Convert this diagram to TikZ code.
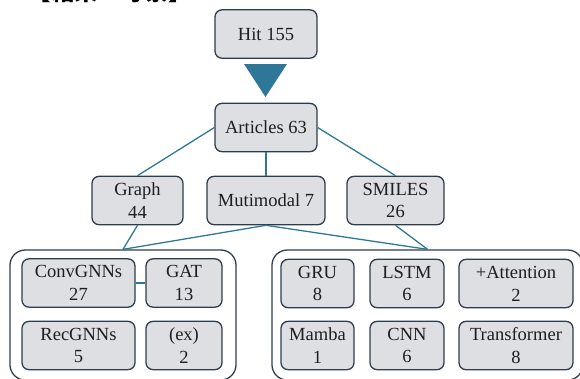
\documentclass[tikz,border=0pt]{standalone}
\usepackage{fontspec}
\setmainfont{Liberation Serif}
\newfontfamily\jpfont{Noto Sans CJK JP}
\usetikzlibrary{shapes,arrows,positioning,calc}
\definecolor{boxfill}{HTML}{DEDFE3}
\definecolor{boxline}{HTML}{2E3D4C}
\definecolor{linkcol}{HTML}{2E7799}
\definecolor{txtcol}{HTML}{1E1E1E}

\begin{document}
\begin{tikzpicture}[x=0.03cm,y=-0.03cm,
  box/.style={rectangle, rounded corners=6pt, draw=boxline, fill=boxfill, line width=1.1pt,
    align=center, text=txtcol, font=\fontsize{15.8}{19.5}\selectfont, inner sep=0pt,
    minimum height=1.45cm},
  group/.style={rectangle, rounded corners=13pt, draw=boxline, line width=1.1pt, inner sep=0pt},
  link/.style={draw=linkcol, line width=1.1pt}]
\useasboundingbox (0,0) rectangle (580,378);

% cut-off title above the picture
\node[anchor=base, font=\jpfont\bfseries\fontsize{20}{20}\selectfont] (title) at (110,0.5) {【結果・考察】};

\node[box, minimum width=3.06cm] (hit) at (266,34) {Hit 155};
\fill[linkcol] (244,64) -- (287,64) -- (265.5,97) -- cycle;
\node[box, minimum width=3.06cm] (art) at (266,127.5) {Articles 63};

\node[box, minimum width=2.73cm] (graph) at (137.5,200.5) {Graph\\44};
\node[box, minimum width=3.54cm] (multi) at (266,200.5) {Mutimodal 7};
\node[box, minimum width=2.91cm] (smiles) at (395.5,200.5) {SMILES\\26};

\node[group, minimum width=6.78cm, minimum height=3.9cm] (gleft) at (123,315) {};
\node[group, minimum width=9.33cm, minimum height=3.9cm] (gright) at (427.5,315) {};

% graph models
\node[box, minimum width=3.39cm] (conv) at (78.5,283) {ConvGNNs\\27};
\node[box, minimum width=2.28cm] (gat) at (184,283) {GAT\\13};
\node[box, minimum width=3.39cm] (rec) at (78.5,345.5) {RecGNNs\\5};
\node[box, minimum width=2.28cm] (ex) at (184,345.5) {(ex)\\2};

% SMILES models
\node[box, minimum width=2.19cm] (gru) at (317.5,283.5) {GRU\\8};
\node[box, minimum width=2.22cm] (lstm) at (407,283.5) {LSTM\\6};
\node[box, minimum width=3.42cm] (att) at (516,283.5) {+Attention\\2};
\node[box, minimum width=2.19cm] (mamba) at (317.5,345.5) {Mamba\\1};
\node[box, minimum width=2.22cm] (cnn) at (407,345.5) {CNN\\6};
\node[box, minimum width=3.42cm] (trans) at (516,345.5) {Transformer\\8};

\draw[link] (art.west) -- (graph.north);
\draw[link] (art.south) -- (multi.north);
\draw[link] (art.east) -- (smiles.north);
\draw[link] (graph.south) -- (gleft.north);
\draw[link] (multi.south) -- (gleft.north);
\draw[link] (multi.south) -- (gright.north);
\draw[link] (smiles.south) -- (gright.north);
\draw[link] (conv.east) -- (gat.west);
\end{tikzpicture}
\end{document}
